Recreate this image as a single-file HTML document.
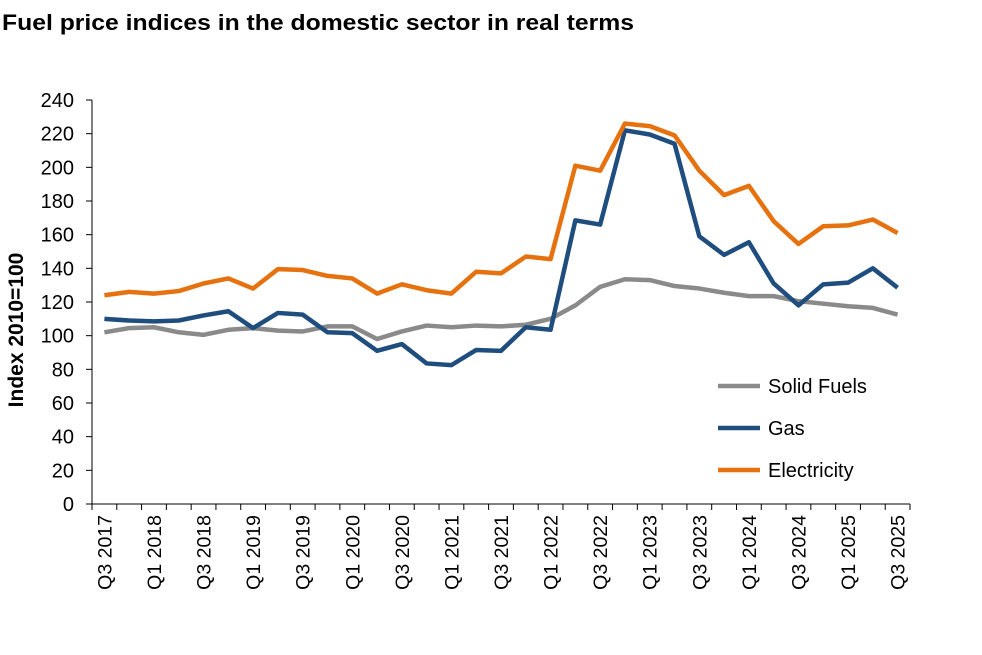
<!DOCTYPE html>
<html><head><meta charset="utf-8"><style>
body{margin:0;background:#fff;font-family:"Liberation Sans",Arial,sans-serif;}
</style></head><body>
<svg width="982" height="650" xmlns="http://www.w3.org/2000/svg" font-family="Liberation Sans, Arial, sans-serif">
<text x="2" y="30" font-size="22" font-weight="bold" textLength="632" lengthAdjust="spacingAndGlyphs">Fuel price indices in the domestic sector in real terms</text>
<text transform="translate(23,330) rotate(-90)" text-anchor="middle" font-size="21" font-weight="bold">Index 2010=100</text>
<g id="axes"></g>
<g id="series"></g>
<g id="legend"></g>
</svg>
<script>
const categories=[];
(function(){let q=3,y=2017;for(let i=0;i<33;i++){categories.push('Q'+q+' '+y);q++;if(q>4){q=1;y++;}}})();
const yTicks=[0,20,40,60,80,100,120,140,160,180,200,220,240];
const electricity=[124,126,125,126.5,131,134,128,139.5,139,135.5,134,125,130.5,127,125,138,137,147,145.5,201,198,226,224.5,219,198,183.5,189,168,154.5,165,165.5,169,161];
const gas=[110,109,108.5,109,112,114.5,104.5,113.5,112.5,102,101.5,91,95,83.5,82.5,91.5,91,105,103.5,168.5,166,222,219.5,214,159,148,155.5,131,118,130.5,131.5,140,128.5];
const solidFuels=[102,104.5,105,102,100.5,103.5,104.5,103,102.5,105.5,105.5,98,102.5,106,105,106,105.5,106.5,110,118,129,133.5,133,129.5,128,125.5,123.5,123.5,120.5,119,117.5,116.5,112.5];
const NS='http://www.w3.org/2000/svg';
const x0=92,x1=910,yb=504,yt=100;
const step=(x1-x0)/categories.length;
const X=i=>x0+step*(i+0.5);
const Y=v=>yb-(v/240)*(yb-yt);
function mk(t,a,p){const e=document.createElementNS(NS,t);for(const k in a)e.setAttribute(k,a[k]);p.appendChild(e);return e;}
const ax=document.getElementById('axes');
let e=mk('line',{x1:x0,y1:yt,x2:x0,y2:yb,stroke:'#000','stroke-width':1},ax);


e=mk('line',{x1:x0,y1:yb,x2:x1,y2:yb,stroke:'#000','stroke-width':1},ax);


yTicks.forEach(v=>{
 mk('line',{x1:x0-6,y1:Y(v),x2:x0,y2:Y(v),stroke:'#000'},ax);
 const t=mk('text',{x:x0-18,y:Y(v)+7,'text-anchor':'end','font-size':20},ax);
 t.textContent=v;
 
 
});
for(let i=0;i<=categories.length;i++){mk('line',{x1:x0+step*i,y1:yb,x2:x0+step*i,y2:yb+6,stroke:'#000'},ax);}
categories.forEach((c,i)=>{
 if(i%2)return;
 const t=mk('text',{transform:`translate(${X(i)+7},${yb+11}) rotate(-90)`,'text-anchor':'end','font-size':19.5},ax);
 t.textContent=c;
 
 
});
const sg=document.getElementById('series');
const series=[['solid-fuels-line',solidFuels,'#8a8a8a'],['gas-line',gas,'#1f4e7e'],['electricity-line',electricity,'#e6720f']];
series.forEach(([n,d,c])=>{
 const p=mk('polyline',{points:d.map((v,i)=>X(i)+','+Y(v)).join(' '),fill:'none',stroke:c,'stroke-width':4.5,'stroke-linejoin':'round'},sg);
 
 
});
const lg=document.getElementById('legend');
[['Solid Fuels','#8a8a8a',386],['Gas','#1f4e7e',428],['Electricity','#e6720f',470]].forEach(([l,c,y])=>{
 const g=mk('g',{},lg);
 
 
 mk('line',{x1:718,y1:y,x2:760,y2:y,stroke:c,'stroke-width':4.5},g);
 const t=mk('text',{x:768,y:y+7,'font-size':20},g);t.textContent=l;
});
</script>
</body></html>
